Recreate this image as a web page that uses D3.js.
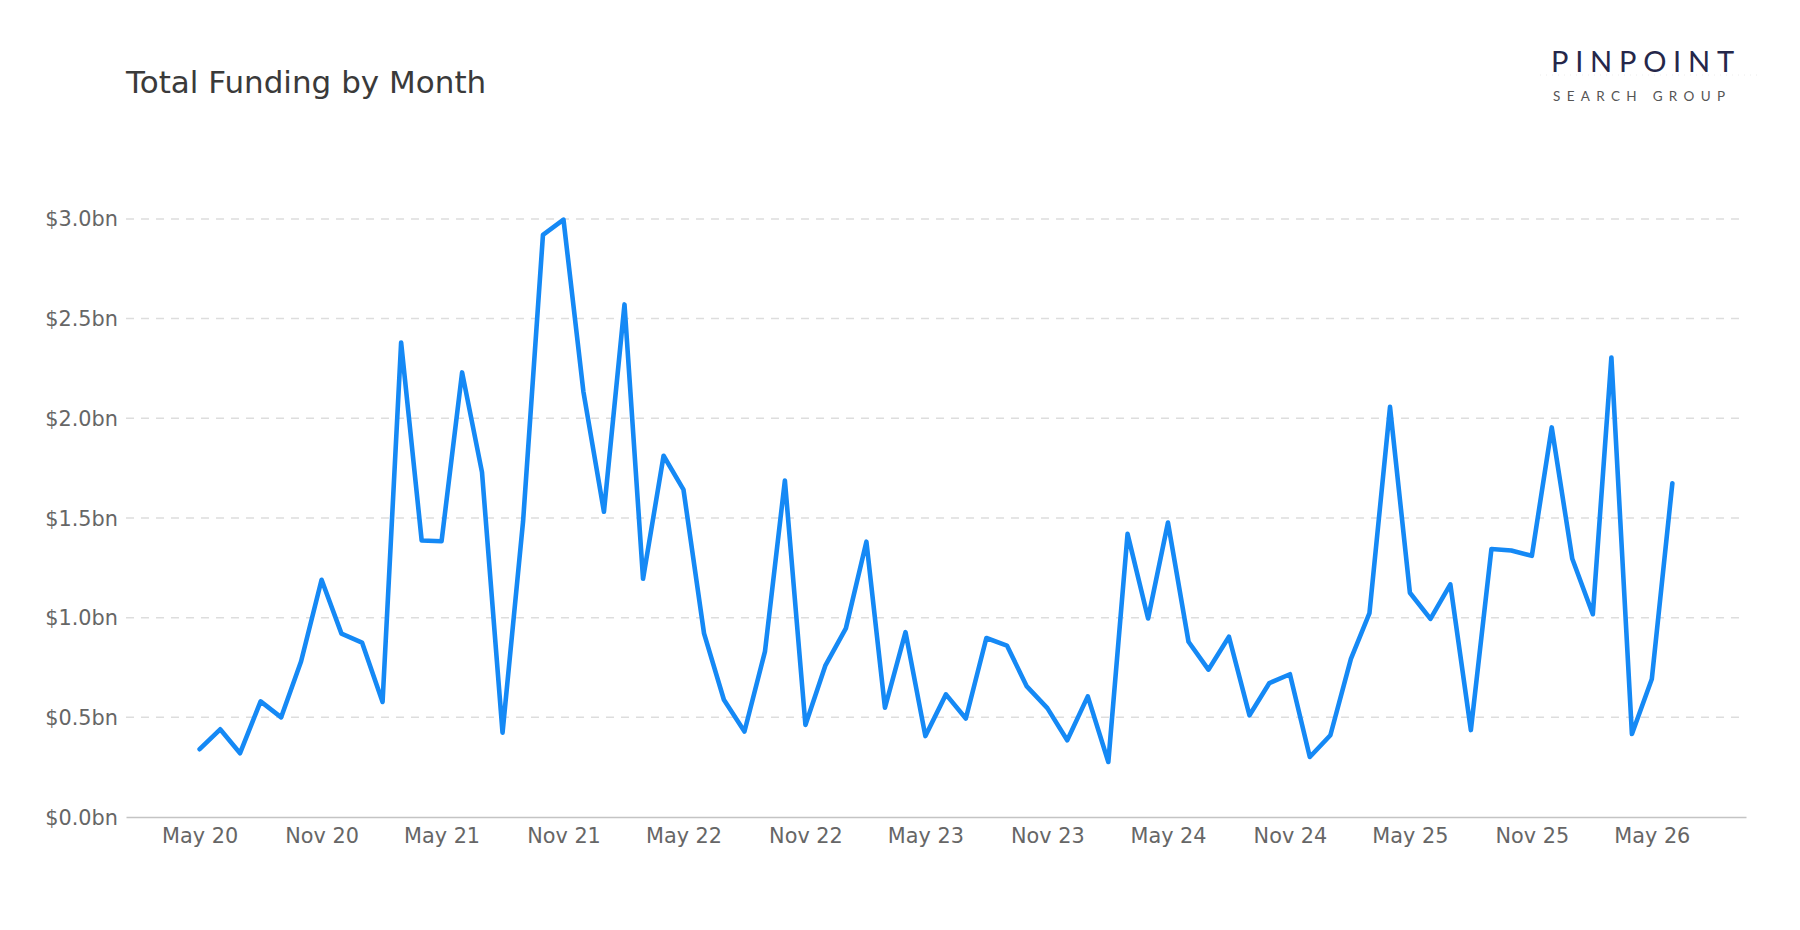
<!DOCTYPE html>
<html>
<head>
<meta charset="utf-8">
<script src="https://cdn.jsdelivr.net/npm/d3@7"></script>
<style>
body { margin:0; background:#ffffff; }
text { font-family: "DejaVu Sans", sans-serif; }
.title { font-size:31px; fill:#3a3a3a; }
.tick text { font-size:20.8px; fill:#666666; }
</style>
</head>
<body>
<svg id="chart"></svg>
<script>
// months (YYYY-MM) and total funding in $bn
var months = [
    "2020-05","2020-06","2020-07","2020-08","2020-09","2020-10","2020-11","2020-12",
    "2021-01","2021-02","2021-03","2021-04","2021-05","2021-06","2021-07","2021-08","2021-09","2021-10","2021-11","2021-12",
    "2022-01","2022-02","2022-03","2022-04","2022-05","2022-06","2022-07","2022-08","2022-09","2022-10","2022-11","2022-12",
    "2023-01","2023-02","2023-03","2023-04","2023-05","2023-06","2023-07","2023-08","2023-09","2023-10","2023-11","2023-12",
    "2024-01","2024-02","2024-03","2024-04","2024-05","2024-06","2024-07","2024-08","2024-09","2024-10","2024-11","2024-12",
    "2025-01","2025-02","2025-03","2025-04","2025-05","2025-06","2025-07","2025-08","2025-09","2025-10","2025-11","2025-12",
    "2026-01","2026-02","2026-03","2026-04","2026-05","2026-06"
]

var funding = [
    0.34, 0.44, 0.32, 0.58, 0.50, 0.78, 1.19, 0.92,
    0.875, 0.577, 2.38, 1.387, 1.383, 2.23, 1.73, 0.423, 1.483, 2.92, 2.996, 2.134,
    1.531, 2.571, 1.195, 1.812, 1.642, 0.921, 0.588, 0.429, 0.831, 1.688, 0.462, 0.759,
    0.946, 1.381, 0.548, 0.927, 0.406, 0.615, 0.494, 0.898, 0.860, 0.655, 0.546, 0.385,
    0.605, 0.276, 1.420, 0.996, 1.477, 0.879, 0.739, 0.904, 0.510, 0.672, 0.716, 0.301,
    0.410, 0.793, 1.023, 2.057, 1.125, 0.994, 1.167, 0.436, 1.344, 1.337, 1.310, 1.954,
    1.295, 1.017, 2.305, 0.416, 0.692, 1.674
]

var xTickMonths = ["2020-05","2020-11","2021-05","2021-11","2022-05","2022-11","2023-05",
                   "2023-11","2024-05","2024-11","2025-05","2025-11","2026-05"]
var yTicks = [0, 0.5, 1.0, 1.5, 2.0, 2.5, 3.0]

var parseMonth = d3.timeParse("%Y-%m")

var makeTranslateString = function (x, y) {
    return "translate(" + x + "," + y + ")";
}

var drawGrid = function(graphDim, target, yScale)
{
    target.append("g")
    .selectAll("line")
    .data(yTicks.filter(function(t){ return t > 0; }))
    .enter()
    .append("line")
    .attr("x1", 0)
    .attr("x2", graphDim.width)
    .attr("y1", function(t){ return yScale(t); })
    .attr("y2", function(t){ return yScale(t); })
    .attr("stroke", "#dddddd")
    .attr("stroke-width", 1.5)
    .attr("stroke-dasharray", "8,7")
}

var drawAxes = function(graphDim, margins, xScale, yScale)
{
    var xAxis = d3.axisBottom(xScale)
        .tickValues(xTickMonths.map(parseMonth))
        .tickFormat(d3.timeFormat("%b %y"))
        .tickSize(0)
        .tickPadding(11)

    var yAxis = d3.axisLeft(yScale)
        .tickValues(yTicks)
        .tickFormat(function(v){ return "$" + d3.format(".1f")(v) + "bn"; })
        .tickSize(0)
        .tickPadding(8)

    var xg = d3.select("#chart")
    .append("g")
    .attr("transform", makeTranslateString(margins.left, margins.top + graphDim.height))
    .call(xAxis)
    xg.select(".domain").attr("stroke", "#c4c4c4").attr("stroke-width", 1.6)

    var yg = d3.select("#chart")
    .append("g")
    .attr("transform", makeTranslateString(margins.left, margins.top))
    .call(yAxis)
    yg.select(".domain").remove()
    yg.selectAll(".tick text").attr("dy", "0.34em")
}

var drawLine = function(target, xScale, yScale)
{
    var points = months.map(function(m, i){ return {date: parseMonth(m), value: funding[i]}; })

    var line = d3.line()
        .x(function(p){ return xScale(p.date); })
        .y(function(p){ return yScale(p.value); })

    target.append("path")
    .datum(points)
    .attr("d", line)
    .attr("fill", "none")
    .attr("stroke", "#1589f5")
    .attr("stroke-width", 4.6)
    .attr("stroke-linejoin", "round")
    .attr("stroke-linecap", "round")
}

var drawLabels = function(margins)
{
    var labels = d3.select("#chart")
    .append("g")
    .classed("labels", true)

    labels.append("text")
    .text("Total Funding by Month")
    .classed("title", true)
    .attr("x", margins.left)
    .attr("y", 93)

    // logo
    var logo = labels.append("g")
    logo.append("line")
    .attr("x1", 1540).attr("x2", 1758)
    .attr("y1", 75).attr("y2", 75)
    .attr("stroke", "#ececec")
    .attr("stroke-width", 1)
    .attr("stroke-dasharray", "1,5")

    logo.append("text")
    .text("PINPOINT")
    .attr("x", 1551)
    .attr("y", 72)
    .attr("textLength", 183)
    .style("font-family", "Lato, 'Open Sans', sans-serif")
    .style("font-weight", 400)
    .style("font-size", "29px")
    .style("fill", "#25274a")

    logo.append("text")
    .text("SEARCH GROUP")
    .attr("x", 1553)
    .attr("y", 100.5)
    .attr("textLength", 172)
    .style("font-family", "Lato, 'Open Sans', sans-serif")
    .style("font-weight", 400)
    .style("font-size", "13.5px")
    .style("fill", "#555555")
}

var initGraph = function()
{
    var screen = {width:1800, height:930}
    var margins = {left:126, right:54, top:189, bottom:113}

    var graph =
        {
            width: screen.width - margins.left - margins.right,
            height: screen.height - margins.top - margins.bottom
        }

    d3.select("#chart")
    .attr("width", screen.width)
    .attr("height", screen.height)

    var target = d3.select("#chart")
    .append("g")
    .attr("id", "graph")
    .attr("transform", makeTranslateString(margins.left, margins.top))

    var first = parseMonth(months[0])
    var last = parseMonth(months[months.length - 1])
    var pad = (last - first) * 0.05

    var xScale = d3.scaleTime()
        .domain([new Date(+first - pad), new Date(+last + pad)])
        .range([0, graph.width])

    var yScale = d3.scaleLinear()
        .domain([0, 3.15])
        .range([graph.height, 0])

    drawGrid(graph, target, yScale)
    drawAxes(graph, margins, xScale, yScale)
    drawLine(target, xScale, yScale)
    drawLabels(margins)
}

initGraph()
</script>
</body>
</html>
